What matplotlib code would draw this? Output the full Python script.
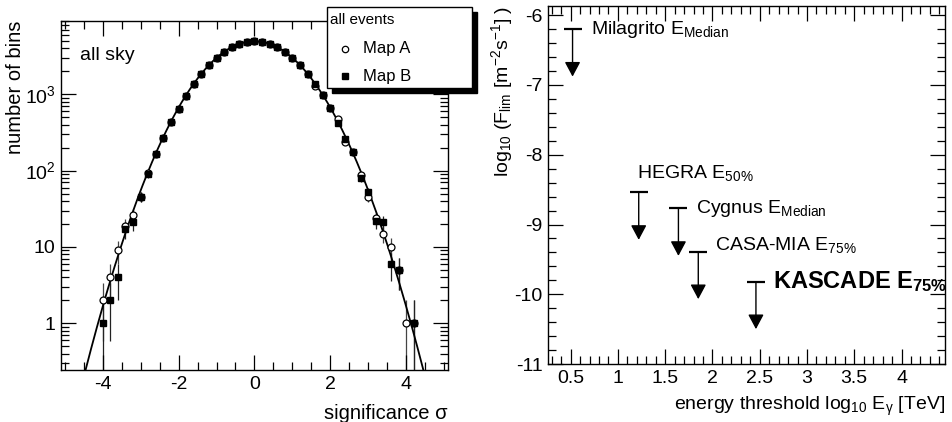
import numpy as np
import matplotlib
matplotlib.use("Agg")
import matplotlib.pyplot as plt
from matplotlib.patches import Rectangle
from matplotlib.lines import Line2D
from matplotlib.ticker import MultipleLocator, LogLocator, NullFormatter, FixedLocator, FixedFormatter

plt.rcParams["font.family"] = ["Liberation Sans", "DejaVu Sans"]
plt.rcParams["mathtext.fontset"] = "custom"
plt.rcParams["mathtext.rm"] = "Liberation Sans"
plt.rcParams["mathtext.it"] = "Liberation Sans:italic"
plt.rcParams["mathtext.bf"] = "Liberation Sans:bold"
plt.rcParams["axes.unicode_minus"] = False

# --- left panel: significance distribution ---
sig_bins = [-4.0, -3.8, -3.6, -3.4, -3.2, -3.0, -2.8, -2.6, -2.4, -2.2, -2.0,
            -1.8, -1.6, -1.4, -1.2, -1.0, -0.8, -0.6, -0.4, -0.2, 0.0,
            0.2, 0.4, 0.6, 0.8, 1.0, 1.2, 1.4, 1.6, 1.8, 2.0,
            2.2, 2.4, 2.6, 2.8, 3.0, 3.2, 3.4, 3.6, 3.8, 4.0, 4.2]
map_a = [2, 4, 9, 19, 26, 45, 92, 165, 265, 430, 640,
         960, 1370, 1830, 2380, 2980, 3600, 4150, 4590, 4880, 4980,
         4870, 4580, 4150, 3580, 3000, 2420, 1850, 1290, 970, 660,
         480, 240, 175, 87, 45, 24, 15, 10, 5, 1, 1]
map_b = [1, 2, 4, 17, 21, 45, 90, 165, 265, 430, 640,
         960, 1370, 1830, 2380, 2980, 3600, 4150, 4590, 4880, 4980,
         4870, 4580, 4150, 3580, 3000, 2420, 1850, 1380, 970, 660,
         420, 260, 175, 80, 52, 22, 21, 6, 5, 0, 1]
fit_amp, fit_mean, fit_sigma = 4950, 0.0, 1.0

# --- right panel: flux upper limits ---
experiments = ["Milagrito", "HEGRA", "Cygnus", "CASA-MIA", "KASCADE"]
energy_sub = ["Median", "50\\%", "Median", "75\\%", "75\\%"]
log_e = [0.52, 1.22, 1.64, 1.85, 2.46]
log_flux = [-6.20, -8.54, -8.77, -9.39, -9.82]
arrow_len = 0.68

fig = plt.figure(figsize=(9.53, 4.22), dpi=100)
axL = fig.add_axes([0.064, 0.1232, 0.406, 0.827])
axR = fig.add_axes([0.575, 0.1374, 0.4166, 0.848])

FS = 14

def style_axis(ax):
    ax.tick_params(which="both", direction="in", top=True, right=True,
                   labelsize=FS, width=0.9, pad=4)
    ax.tick_params(which="major", length=11)
    ax.tick_params(which="minor", length=6)
    for s in ax.spines.values():
        s.set_linewidth(1.0)

# left
x = np.array(sig_bins)
a = np.array(map_a, dtype=float)
b = np.array(map_b, dtype=float)
xs = np.linspace(-5.1, 5.1, 400)
axL.plot(xs, fit_amp * np.exp(-0.5 * ((xs - fit_mean) / fit_sigma) ** 2),
         color="black", lw=1.3, zorder=2)
ma = a > 0
mb = b > 0
ea = np.sqrt(a[ma])
eb = np.sqrt(b[mb])
axL.errorbar(x[ma], a[ma], yerr=[np.minimum(ea, a[ma] - 1e-3), ea], fmt="none",
             ecolor="#444444", elinewidth=0.9, capsize=0, zorder=1)
axL.errorbar(x[mb], b[mb], yerr=[np.minimum(eb, b[mb] - 1e-3), eb], fmt="none",
             ecolor="#222222", elinewidth=0.9, capsize=0, zorder=1)
axL.plot(x[ma], a[ma], "o", mfc="white", mec="black", mew=0.9, ms=5, zorder=3)
axL.plot(x[mb], b[mb], "s", color="black", ms=4.8, zorder=4)
axL.set_yscale("log")
axL.set_xlim(-5.1, 5.1)
axL.set_ylim(0.245, 9100)
axL.xaxis.set_major_locator(MultipleLocator(2))
axL.xaxis.set_minor_locator(MultipleLocator(0.5))
axL.yaxis.set_major_locator(FixedLocator([1, 10, 100, 1000]))
axL.yaxis.set_major_formatter(FixedFormatter(["1", "10", "$\\mathregular{10^{2}}$", "$\\mathregular{10^{3}}$"]))
axL.yaxis.set_minor_locator(LogLocator(base=10, subs=np.arange(2, 10)))
axL.yaxis.set_minor_formatter(NullFormatter())
style_axis(axL)
axL.set_xlabel("significance σ", fontsize=FS + 0.5, loc="right", labelpad=8)
axL.set_ylabel("number of bins", fontsize=FS + 0.5, loc="top")
axL.yaxis.set_label_coords(-0.092, 1.0)
axL.text(0.05, 0.9, "all sky", transform=axL.transAxes, fontsize=FS, va="center")

# legend box (extends outside axes, with shadow)
W, H = 953.0, 422.0
lx0, ly0, lx1, ly1 = 327, 7, 472, 88
fig.patches.append(Rectangle(((lx0 + 5) / W, 1 - (ly1 + 5) / H), (lx1 - lx0) / W,
                             (ly1 - ly0) / H, transform=fig.transFigure,
                             facecolor="black", edgecolor="black", zorder=5))
fig.patches.append(Rectangle((lx0 / W, 1 - ly1 / H), (lx1 - lx0) / W,
                             (ly1 - ly0) / H, transform=fig.transFigure,
                             facecolor="white", edgecolor="black", lw=1.0, zorder=6))
fig.text(330 / W, 1 - 20 / H, "all events", fontsize=11, va="center", zorder=7)
fig.add_artist(Line2D([345 / W], [1 - 49 / H], marker="o", mfc="white", mec="black",
                      ms=4.6, mew=0.9, transform=fig.transFigure, zorder=7))
fig.add_artist(Line2D([345 / W], [1 - 76 / H], marker="s", color="black",
                      ms=4.6, transform=fig.transFigure, zorder=7))
fig.text(363 / W, 1 - 49 / H, "Map A", fontsize=12, va="center", zorder=7)
fig.text(363 / W, 1 - 76 / H, "Map B", fontsize=12, va="center", zorder=7)

# right
label_off = [(0.19, 0.0), (-0.02, 0.28), (0.19, 0.0), (0.18, 0.09), (0.18, 0.0)]
for i, name in enumerate(experiments):
    xe, yf = log_e[i], log_flux[i]
    axR.hlines(yf, xe - 0.095, xe + 0.095, color="black", lw=1.6)
    axR.annotate("", xy=(xe, yf - arrow_len), xytext=(xe, yf),
                 arrowprops=dict(arrowstyle="-|>,head_length=0.9,head_width=0.48",
                                 mutation_scale=10, color="black", lw=1.0,
                                 shrinkA=0, shrinkB=0))
    dx, dy = label_off[i]
    if name == "KASCADE":
        axR.text(xe + dx, yf + dy, name + " $\\mathbf{E_{" + energy_sub[i] + "}}$",
                 fontsize=17, fontweight="bold", va="center")
    else:
        axR.text(xe + dx, yf + dy, name + " $\\mathregular{E_{" + energy_sub[i] + "}}$",
                 fontsize=FS, va="center")
axR.set_xlim(0.26, 4.46)
axR.set_ylim(-11, -5.87)
axR.xaxis.set_major_locator(MultipleLocator(0.5))
axR.xaxis.set_minor_locator(MultipleLocator(0.1))
axR.yaxis.set_major_locator(MultipleLocator(1))
axR.yaxis.set_minor_locator(MultipleLocator(0.2))
axR.xaxis.set_major_formatter(plt.FuncFormatter(lambda v, p: f"{v:g}"))
axR.yaxis.set_major_formatter(plt.FuncFormatter(lambda v, p: f"{v:g}"))
style_axis(axR)
axR.set_xlabel("energy threshold $\\mathregular{log_{10}}$ $\\mathregular{E_{\\gamma}}$ [TeV]",
               fontsize=FS, loc="right", labelpad=6)
axR.set_ylabel("$\\mathregular{log_{10}}$ ($\\mathregular{F_{lim}}$ [$\\mathregular{m^{-2}s^{-1}}$] )",
               fontsize=FS, loc="top")
axR.yaxis.set_label_coords(-0.083, 1.0)

fig.savefig("out.png", dpi=100)
